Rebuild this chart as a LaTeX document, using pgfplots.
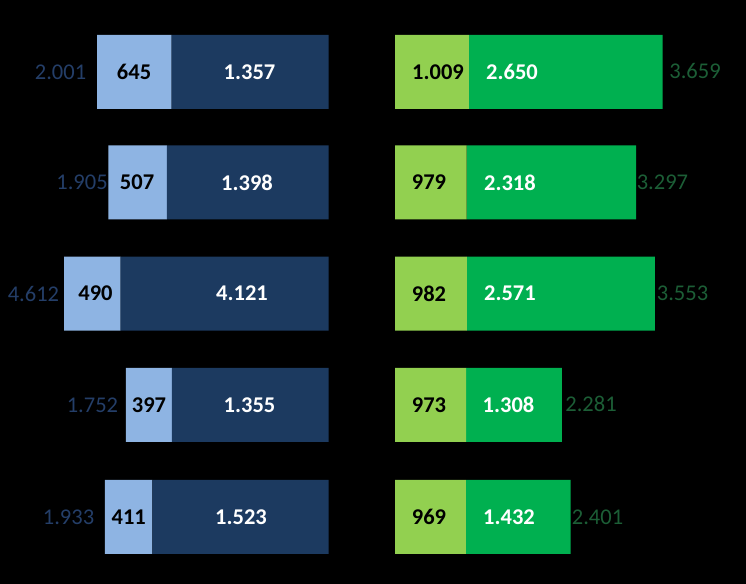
\documentclass[border=0pt]{standalone}
\usepackage{pgfplots}
\pgfplotsset{compat=1.18}
\usepackage{pgfplotstable}
\usepackage{fontspec}
\setmainfont{Carlito}
\definecolor{lblue}{RGB}{142,180,227}
\definecolor{navy}{RGB}{28,58,96}
\definecolor{lgreen}{RGB}{146,208,80}
\definecolor{dgreen}{RGB}{0,176,80}
\definecolor{totblue}{RGB}{36,62,104}
\definecolor{totgreen}{RGB}{28,94,54}
\newcommand{\lblfont}{\fontsize{22.5bp}{25bp}\selectfont}

% left panel: inner (navy) and outer (light blue) segments; row 3 navy bar is truncated (value 4.121 drawn shortened)
\pgfplotstableread{
y     navy   light
512   -1357  -645
401.5 -1398  -507
290.3 -1798  -490
179   -1355  -397
67    -1523  -411
}\leftdata
\pgfplotstableread{
y     light  dark
512   1009   2650
401.5 979    2318
290.3 982    2571
179   973    1308
67    969    1432
}\rightdata
% label positions
\pgfplotstableread{
x      y      lab
-2318  512    2.001
-2132  401.5  1.905
-2552  290.3  4.612
-2042  179    1.752
-2249  67     1.933
}\lefttot
\pgfplotstableread{
x      y      lab
-1682  512    645
-1656  401.5  507
-2016  290.3  490
-1553  179    397
-1728  67     411
}\leftlight
\pgfplotstableread{
x      y      lab
-683   512    1.357
-705   401.5  1.398
-748   290.3  4.121
-683   179    1.355
-757   67     1.523
}\leftdark
\pgfplotstableread{
x      y      lab
4102   513    3.659
3657   401.5  3.297
3931   290.3  3.553
2680   180    2.281
2769   67     2.401
}\righttot
\pgfplotstableread{
x      y      lab
588    512    1.009
465    401.5  979
465    290.3  982
465    179    973
465    67     969
}\rightlight
\pgfplotstableread{
x      y      lab
1600   512    2.650
1572   401.5  2.318
1572   290.3  2.571
1552   179    1.308
1559   67     1.432
}\rightdark

\pgfplotsset{
  panel/.style={scale only axis, hide axis, anchor=south west,
    height=584bp, ymin=0, ymax=584, clip=false, enlargelimits=false},
  lbl/.style={draw=none, mark=none, nodes near coords, point meta=explicit symbolic,
    nodes near coords style={anchor=center, inner sep=0pt, font=\lblfont, text=#1}},
}

\begin{document}
\begin{tikzpicture}
\fill[black] (0,0) rectangle (746bp,584bp);
% left bars
\begin{axis}[panel, at={(0,0)}, width=328.5bp, xmin=-2841.7, xmax=0,
  xbar stacked, bar width=74]
\addplot[fill=navy, draw=none] table[x=navy, y=y] {\leftdata};
\addplot[fill=lblue, draw=none] table[x=light, y=y] {\leftdata};
\end{axis}
% left labels
\begin{axis}[panel, at={(0,0)}, width=328.5bp, xmin=-2841.7, xmax=0]
\addplot[lbl=totblue] table[x=x, y=y, meta=lab] {\lefttot};
\addplot[lbl=black, nodes near coords style={font=\lblfont\bfseries}] table[x=x, y=y, meta=lab] {\leftlight};
\addplot[lbl=white, nodes near coords style={font=\lblfont\bfseries}] table[x=x, y=y, meta=lab] {\leftdark};
\end{axis}
% right bars
\begin{axis}[panel, at={(395bp,0)}, width=351bp, xmin=0, xmax=4799,
  xbar stacked, bar width=74]
\addplot[fill=lgreen, draw=none] table[x=light, y=y] {\rightdata};
\addplot[fill=dgreen, draw=none] table[x=dark, y=y] {\rightdata};
\end{axis}
% right labels
\begin{axis}[panel, at={(395bp,0)}, width=351bp, xmin=0, xmax=4799]
\addplot[lbl=totgreen] table[x=x, y=y, meta=lab] {\righttot};
\addplot[lbl=black, nodes near coords style={font=\lblfont\bfseries}] table[x=x, y=y, meta=lab] {\rightlight};
\addplot[lbl=white, nodes near coords style={font=\lblfont\bfseries}] table[x=x, y=y, meta=lab] {\rightdark};
\end{axis}
\pgfresetboundingbox
\useasboundingbox (0,0) rectangle (746bp,584bp);
\end{tikzpicture}
\end{document}
